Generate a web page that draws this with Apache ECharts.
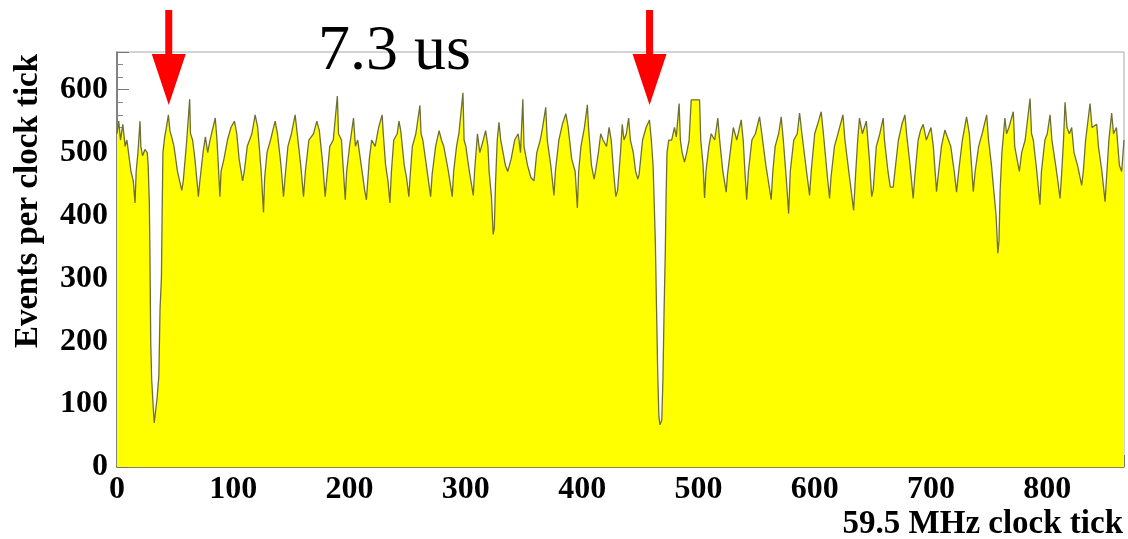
<!DOCTYPE html>
<html>
<head>
<meta charset="utf-8">
<script src="https://cdn.jsdelivr.net/npm/echarts@6/dist/echarts.min.js"></script>
<style>
  html, body { margin: 0; padding: 0; background: #fff; }
  #chart { width: 1128px; height: 539px; }
</style>
</head>
<body>
<div id="chart"></div>
<script>
// histogram outline: clock tick -> events per tick
const clockTick = [
  0, 1.5, 3, 5, 7, 8.5, 12, 14, 15.5, 16.5, 18, 19.8, 20.5, 22, 24, 26,
  26.8, 27.8, 28.3, 29, 29.8, 31, 32, 33.5, 34.5, 36, 37, 38.2, 38.8, 39.5, 41,
  42.5, 44.2, 45.5, 47, 49, 52, 55.7, 57,
  60, 62.5, 63.2, 65, 67, 70, 71,
  74, 76, 78, 80, 84.5, 86, 88.5, 89.5,
  92, 95, 98, 101, 103, 105, 108, 109.5,
  112, 116, 118.8, 121, 124, 126, 127,
  129, 132, 136, 138, 141, 143.2, 144.5,
  147, 150, 153.2, 155, 158, 160.4, 162,
  165, 169, 171.9, 174, 177, 179, 180.5,
  183, 186, 189.5, 190.5, 193, 196.3, 197.5,
  200, 203.4, 205, 207, 210,
  213, 214.5, 217, 219, 222, 225, 228, 229,
  231, 233, 234.7, 236, 238, 241, 242.5, 244,
  247, 249, 251, 252, 254, 257, 260.5, 261.5, 263,
  266, 269.7, 271, 274, 277, 279, 281,
  285, 288.3, 289.5, 292, 294, 297.5, 298.5, 300,
  303, 306.4, 307.5, 310, 312, 315, 317, 319,
  320, 322, 323.5, 324.5, 325.5, 327, 328.5, 330,
  332, 334, 336, 339, 342, 345, 347, 349, 350,
  353, 356, 358.6, 361, 364, 366, 368.7, 370,
  373, 375.8, 377, 380, 383, 386, 388,
  391, 394, 395.9, 397, 399, 402, 404.5, 405.5,
  408, 410.3, 411.5, 414, 416, 418, 421, 423.2, 425,
  427, 429,
  430.5, 433, 434.5, 436, 438, 440, 441.5,
  444, 446, 447.9, 449, 452, 455, 457.9, 459.5,
  461, 462, 463, 464, 465, 466, 467, 468.5, 469.5, 470.5, 471.5, 472.2, 473,
  474.5, 477, 479.4, 481, 483.4, 484.5,
  486, 488, 490, 492, 493.8, 501, 502,
  504, 505.3, 506.5, 509, 511, 514, 516.7, 518,
  521, 523.9, 525, 528, 530, 533, 536.8, 538.5,
  540, 541.5, 543, 546, 549, 552.6, 554.5,
  558, 562.6, 564, 566, 569, 571.2, 573,
  575.5, 577.6, 579, 582, 585, 587, 589,
  593, 595.6, 597, 600, 602.5, 605.6, 607.5,
  611, 612.8, 614, 617, 620, 624.3, 626,
  630, 633.5, 635, 637, 638.5, 641, 644.4,
  647, 649, 650.3, 653, 656, 658.9, 660,
  663, 665, 667.5, 669, 672, 675, 677.6, 679,
  682, 684.7, 686, 689, 691, 693.3, 696, 700, 702,
  704.8, 706, 709, 712, 715, 717,
  720, 722, 723.5, 727, 730.6, 733,
  736.4, 738, 741, 744, 747.9, 749.5,
  752, 754, 756, 757.5, 758.5, 759.5,
  761, 763.6, 765, 767, 770.8, 772,
  774, 776, 778, 781, 785.2, 786.5, 788,
  791, 793.7, 795, 798, 800, 802.4, 804,
  808, 811, 812.5, 814, 815.3, 817, 819, 821, 823,
  826, 829.6, 831, 833, 836.8, 838.5, 842.5, 844,
  847, 849.7, 851, 853, 855.4, 857, 859.5, 862,
  864, 866
];

const eventsPerTick = [
  530, 550, 520, 545, 510, 520, 470, 455, 420, 470, 500, 550, 510, 495, 505, 500,
  480, 420, 345, 200, 140, 100, 70, 72, 110, 145, 250, 300, 400, 500, 525,
  540, 560, 535, 525, 510, 470, 440, 455,
  520, 585, 530, 520, 490, 430, 450,
  500, 525, 500, 520, 555, 520, 430, 470,
  490, 520, 540, 550, 530, 490, 455, 470,
  510, 530, 560, 540, 470, 405, 460,
  500, 520, 550, 530, 480, 430, 460,
  510, 530, 560, 530, 480, 430, 470,
  520, 530, 550, 535, 480, 430, 460,
  510, 520, 590, 530, 520, 425, 470,
  510, 555, 510, 520, 480,
  440, 425, 490, 520, 510, 540, 560, 530,
  480, 455, 420, 470, 520, 530, 550, 535,
  480, 460, 430, 460, 510, 530, 575, 530, 520,
  480, 430, 465, 510, 535, 520, 510,
  470, 430, 470, 510, 530, 595, 520, 510,
  470, 432, 470, 530, 500, 520, 535, 510,
  470, 430, 370, 380, 450, 520, 548, 520,
  500, 480, 470, 490, 520, 530, 500, 585, 510,
  480, 460, 455, 500, 520, 540, 572, 520,
  480, 432, 470, 520, 545, 562, 540,
  490, 470, 412, 470, 510, 540, 576, 540,
  480, 458, 470, 500, 530, 520, 510, 540, 520,
  470, 430,
  440, 500, 545, 520, 530, 555, 520,
  500, 470, 458, 465, 520, 540, 552, 520,
  480, 420, 355, 250, 150, 80, 67, 75, 140, 250, 340, 430, 500,
  520, 520, 540, 525, 578, 520,
  500, 485, 500, 520, 584, 584, 520,
  480, 428, 470, 510, 530, 520, 555, 525,
  470, 437, 465, 510, 540, 520, 552, 520,
  470, 425, 470, 520, 530, 557, 530,
  480, 425, 470, 510, 530, 557, 520,
  460, 403, 470, 520, 530, 563, 530,
  470, 432, 470, 530, 545, 565, 530,
  460, 427, 460, 510, 530, 560, 520,
  460, 408, 460, 520, 555, 530, 550,
  490, 430, 440, 510, 530, 555, 520,
  470, 445, 445, 470, 520, 545, 560, 530,
  480, 427, 460, 520, 535, 545, 520, 540, 510,
  438, 460, 510, 536, 520, 510,
  470, 437, 465, 520, 557, 530,
  438, 470, 510, 530, 560, 520,
  480, 440, 400, 340, 360, 440,
  500, 555, 530, 540, 565, 510,
  490, 470, 500, 520, 586, 530, 520,
  470, 417, 470, 520, 530, 560, 520,
  470, 427, 470, 520, 580, 540, 530, 540, 500,
  480, 448, 470, 520, 578, 540, 545, 510,
  470, 422, 460, 520, 563, 530, 540, 480,
  470, 520
];

// where the two red arrows point (clock tick)
const arrowTicks = [44.5, 458];

const serifBold = 'bold 33px "Liberation Serif"';

const chart = echarts.init(document.getElementById('chart'), null, { renderer: 'canvas' });

const tickLabel = {
  fontFamily: 'Liberation Serif', fontWeight: 'bold', fontSize: 32, color: '#000',
  showMaxLabel: false,
  formatter: (v) => (v % 100 === 0 ? String(v) : '')
};

const option = {
  backgroundColor: '#ffffff',
  animation: false,
  grid: {
    left: 117, right: 4, top: 52, bottom: 72,
    show: true, borderColor: '#a8a8a8', borderWidth: 1, backgroundColor: 'transparent'
  },
  xAxis: {
    type: 'value',
    min: 0, max: 866, interval: 100,
    axisLine: { show: true, onZero: false, lineStyle: { color: '#6e6e30', width: 1.5 } },
    axisTick: { show: true, inside: true, length: 12, lineStyle: { color: '#777' } },
    minorTick: { show: true, splitNumber: 5, length: 6, lineStyle: { color: '#888' } },
    splitLine: { show: false },
    axisLabel: Object.assign({ margin: 7 }, tickLabel)
  },
  yAxis: {
    type: 'value',
    min: 0, max: 660, interval: 100,
    axisLine: { show: true, lineStyle: { color: '#666', width: 1.5 } },
    axisTick: { show: true, inside: true, length: 12, lineStyle: { color: '#777' } },
    minorTick: { show: true, splitNumber: 5, length: 6, lineStyle: { color: '#888' } },
    splitLine: { show: false },
    axisLabel: Object.assign({ margin: 9 }, tickLabel)
  },
  series: [{
    type: 'line',
    data: clockTick.map((x, i) => [x, eventsPerTick[i]]),
    showSymbol: false,
    symbol: 'none',
    lineStyle: { color: '#6f6f34', width: 1.3 },
    areaStyle: { color: '#ffff00', opacity: 1, origin: 'start' },
    z: 2
  }]
};

chart.setOption(option);

// annotations: arrows, period text, axis titles
const graphics = [
  {
    type: 'text', left: 318, top: 20,
    style: { text: '7.3 us', font: '64px "Liberation Serif"', fill: '#000' }
  },
  {
    type: 'text', x: 28, y: 201, rotation: Math.PI / 2,
    style: { text: 'Events per clock tick', font: serifBold, fill: '#000', align: 'center', verticalAlign: 'middle' }
  },
  {
    type: 'text', x: 1123, y: 524,
    style: { text: '59.5 MHz clock tick', font: serifBold, fill: '#000', align: 'right', verticalAlign: 'middle' }
  }
];

arrowTicks.forEach((t) => {
  const cx = chart.convertToPixel({ xAxisIndex: 0 }, t);
  graphics.push({
    type: 'polygon',
    shape: {
      points: [
        [cx - 3.5, 10], [cx + 3.5, 10], [cx + 3.5, 54], [cx + 17, 54],
        [cx, 105], [cx - 17, 54], [cx - 3.5, 54]
      ]
    },
    style: { fill: '#ff0000' },
    z: 10
  });
});

chart.setOption({ graphic: graphics });
</script>
</body>
</html>
